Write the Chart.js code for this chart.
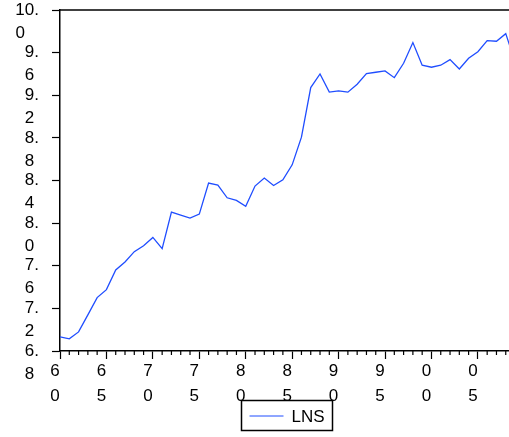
<!DOCTYPE html>
<html>
<head>
<meta charset="utf-8">
<script src="https://cdn.jsdelivr.net/npm/chart.js@4.4.1/dist/chart.umd.min.js"></script>
<style>
  html, body { margin: 0; padding: 0; background: #fff; }
  #contenedor { width: 509px; height: 437px; }
</style>
</head>
<body>
<div id="contenedor"><canvas id="graficoLNS" width="509" height="437"></canvas></div>
<script>
// Serie anual LNS (1960-2009)
const anios = [
  1960, 1961, 1962, 1963, 1964, 1965, 1966, 1967, 1968, 1969,
  1970, 1971, 1972, 1973, 1974, 1975, 1976, 1977, 1978, 1979,
  1980, 1981, 1982, 1983, 1984, 1985, 1986, 1987, 1988, 1989,
  1990, 1991, 1992, 1993, 1994, 1995, 1996, 1997, 1998, 1999,
  2000, 2001, 2002, 2003, 2004, 2005, 2006, 2007, 2008, 2009
];
const lns = [
  6.933, 6.914, 6.979, 7.139, 7.301, 7.376, 7.560, 7.635, 7.732, 7.788,
  7.866, 7.760, 8.104, 8.076, 8.048, 8.085, 8.376, 8.357, 8.238, 8.213,
  8.157, 8.348, 8.423, 8.353, 8.407, 8.547, 8.807, 9.272, 9.400, 9.229,
  9.241, 9.229, 9.304, 9.403, 9.416, 9.428, 9.365, 9.500, 9.694, 9.482,
  9.463, 9.482, 9.534, 9.447, 9.547, 9.609, 9.712, 9.707, 9.778, 9.513
];
const etiquetaSerie = 'LNS';
const colorSerie = '#1f4dff';

// Límites de los ejes
const ejeYMin = 6.8, ejeYMax = 10.0, ejeYPaso = 0.4;
const ejeXMin = 1960, ejeXMax = 2008.35, ejeXPaso = 5;

const fuente = "'Liberation Sans', Arial, sans-serif";

// Etiqueta Y partida en dos líneas: "9." arriba y "6" abajo (alineada a la izquierda con espacios)
function etiquetaY(valor) {
  const partes = Number(valor).toFixed(1).split('.');
  const relleno = ' '.repeat(2 * (partes[0].length - 1) + 1);
  return [partes[0] + '.', partes[1] + relleno];
}

// Etiqueta X: año de dos cifras, una cifra por línea
function etiquetaX(valor) {
  const s = String(Math.round(valor) % 100).padStart(2, '0');
  return [s[0], s[1]];
}

// Marco superior, ticks menores del eje X y leyenda enmarcada
const marcoYLeyenda = {
  id: 'marcoYLeyenda',
  afterDraw(chart) {
    const ctx = chart.ctx;
    const area = chart.chartArea;
    const escalaX = chart.scales.x;
    ctx.save();
    ctx.strokeStyle = '#000';

    // línea superior del marco
    ctx.lineWidth = 1.5;
    ctx.beginPath();
    ctx.moveTo(area.left, area.top);
    ctx.lineTo(area.right, area.top);
    ctx.stroke();

    // ticks menores cada año
    ctx.lineWidth = 1.2;
    for (let a = Math.ceil(escalaX.min); a <= escalaX.max; a++) {
      if (a % ejeXPaso === 0) continue;
      const px = escalaX.getPixelForValue(a);
      ctx.beginPath();
      ctx.moveTo(px, area.bottom);
      ctx.lineTo(px, area.bottom + 4);
      ctx.stroke();
    }

    // leyenda
    const ds = chart.data.datasets[0];
    const ancho = 91, alto = 30;
    const izq = Math.round((area.left + area.right) / 2 - ancho / 2 + 2) + 0.5;
    const arriba = 400.5;
    ctx.fillStyle = '#fff';
    ctx.fillRect(izq, arriba, ancho, alto);
    ctx.lineWidth = 1.5;
    ctx.strokeRect(izq, arriba, ancho, alto);
    ctx.strokeStyle = ds.borderColor;
    ctx.lineWidth = 1;
    ctx.beginPath();
    ctx.moveTo(izq + 8, arriba + 15.5);
    ctx.lineTo(izq + 42, arriba + 15.5);
    ctx.stroke();
    ctx.fillStyle = '#000';
    ctx.font = '17px ' + fuente;
    ctx.textBaseline = 'middle';
    ctx.textAlign = 'left';
    ctx.fillText(ds.label, izq + 50, arriba + 17);
    ctx.restore();
  }
};

const ctx = document.getElementById('graficoLNS').getContext('2d');
const grafico = new Chart(ctx, {
  type: 'line',
  data: {
    datasets: [{
      label: etiquetaSerie,
      data: anios.map((a, i) => ({ x: a, y: lns[i] })),
      borderColor: colorSerie,
      backgroundColor: colorSerie,
      borderWidth: 1.3,
      pointRadius: 0,
      tension: 0,
      fill: false
    }]
  },
  options: {
    responsive: false,
    animation: false,
    layout: { padding: { top: 10, right: 0, bottom: 0, left: 0 } },
    plugins: {
      legend: { display: false },
      tooltip: { enabled: false }
    },
    scales: {
      x: {
        type: 'linear',
        min: ejeXMin,
        max: ejeXMax,
        grid: { drawOnChartArea: false, tickLength: 8, tickColor: '#000', tickWidth: 1.2 },
        border: { color: '#000', width: 1.5 },
        ticks: {
          stepSize: ejeXPaso,
          includeBounds: false,
          maxRotation: 0,
          autoSkip: false,
          padding: 0,
          labelOffset: -5,
          color: '#000',
          font: { family: fuente, size: 17, lineHeight: 1.47 },
          callback: etiquetaX
        },
        afterFit(escala) {
          escala.height = 86;
          escala.paddingLeft = 0;
          escala.paddingRight = 0;
        }
      },
      y: {
        type: 'linear',
        min: ejeYMin,
        max: ejeYMax,
        grid: { drawOnChartArea: false, tickLength: 8, tickColor: '#000', tickWidth: 1.2 },
        border: { color: '#000', width: 1.5 },
        ticks: {
          stepSize: ejeYPaso,
          includeBounds: false,
          autoSkip: false,
          padding: 13,
          labelOffset: 11.5,
          color: '#000',
          font: { family: fuente, size: 17, lineHeight: 1.36 },
          callback: etiquetaY
        },
        afterFit(escala) {
          escala.width = 60;
          escala.paddingTop = 0;
          escala.paddingBottom = 0;
        }
      }
    }
  },
  plugins: [marcoYLeyenda]
});
</script>
</body>
</html>
